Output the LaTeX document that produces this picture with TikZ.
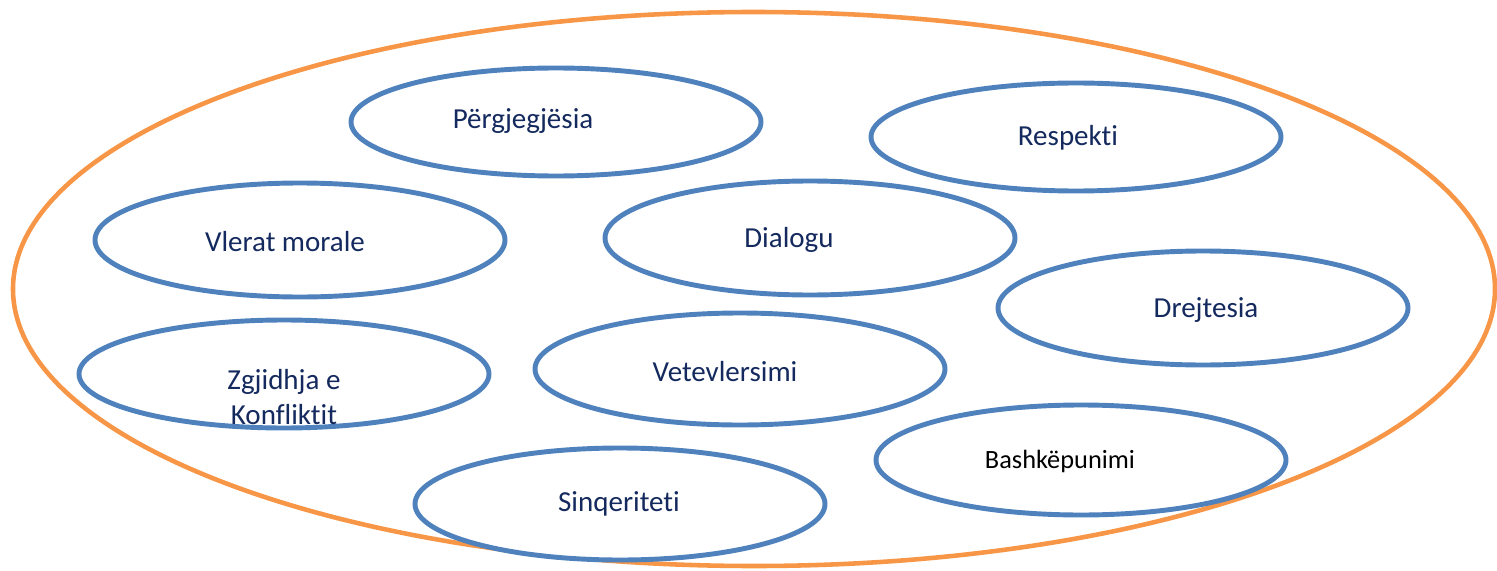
\documentclass[tikz,border=0pt]{standalone}
\usepackage{fontspec}
\setmainfont{Carlito}[Ligatures=NoCommon]
\definecolor{portokalli}{HTML}{F79646}
\definecolor{blu}{HTML}{4F81BD}
\definecolor{bluerret}{HTML}{14295E}
\tikzset{vlera/.style={draw=blu,line width=2.8pt},
	tekst/.style={text=bluerret,font=\fontsize{16.5}{20}\selectfont,align=center,inner sep=0pt}}
\begin{document}
\begin{tikzpicture}[x=0.02cm,y=-0.02cm,line join=round,line cap=round]
	\useasboundingbox (0,0) rectangle (1497,571);
	\draw[portokalli,line width=2.6pt] (754,289) ellipse (741 and 277);
	% elipset e vlerave
	\foreach \i/\x/\y/\ry in {P/556/122/54,R/1076/137/54,V/300/240/57,D/810/238/57,J/1203/308/57,Z/284/374/54,S/740/369/56,B/1081/460/55,Q/620/504/56}{
		\coordinate (\i) at (\x,\y);
		\draw[vlera,fill=white] (\i) ellipse (205 and \ry);}
	\node[tekst] (tP) at (523,121) {Përgjegjësia};
	\node[tekst] (tR) at (1068,138) {Respekti};
	\node[tekst] (tV) at (285,242) {Vlerat morale};
	\node[tekst] (tD) at (789,240) {Dialogu};
	\node[tekst] (tJ) at (1206,310) {Drejtesia};
	\node[tekst] (tZ) at (284,397) {Zgjidhja e\\Konfliktit};
	\node[tekst] (tS) at (725,372) {Vetevlersimi};
	\node[tekst,text=black,font=\fontsize{15}{18}\selectfont] (tB) at (1060,461) {Bashkëpunimi};
	\node[tekst] (tQ) at (619,504) {Sinqeriteti};
\end{tikzpicture}
\end{document}
